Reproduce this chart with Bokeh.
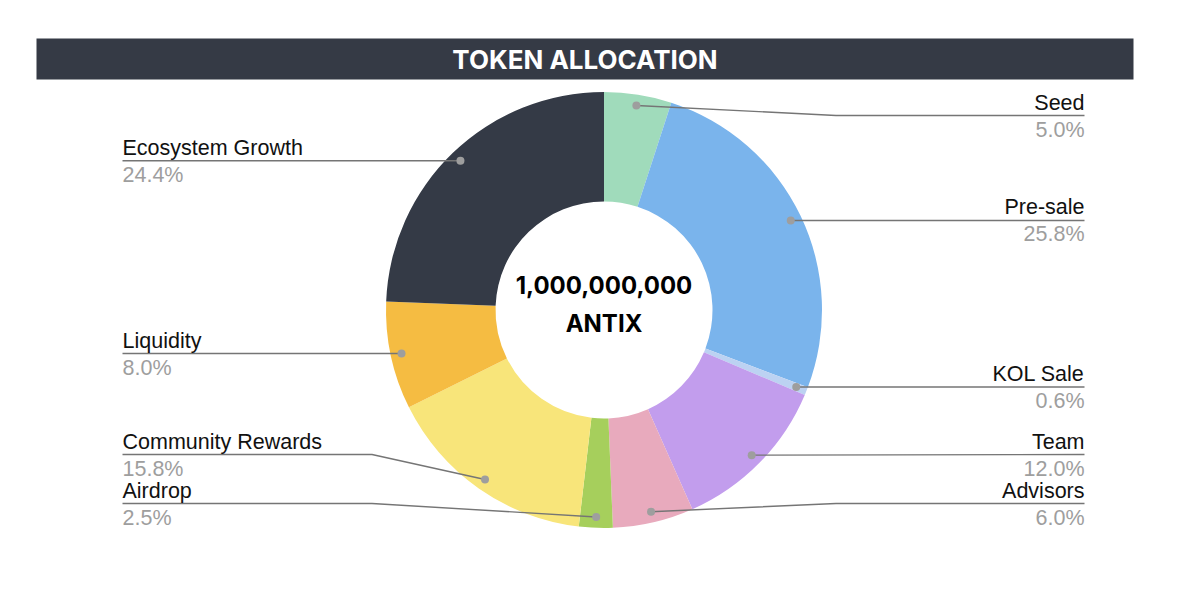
import math
from bokeh.plotting import figure
from bokeh.models import Range1d, ColumnDataSource
from bokeh.core.properties import value
from bokeh.embed import file_html
from bokeh.resources import INLINE

# ---- data ----
labels = ["Seed", "Pre-sale", "KOL Sale", "Team", "Advisors", "Airdrop",
          "Community Rewards", "Liquidity", "Ecosystem Growth"]
values = [5.0, 25.8, 0.6, 12.0, 6.0, 2.5, 15.8, 8.0, 24.4]
colors = ["#a0dbbb", "#7ab4ec", "#bcd2f2", "#c29ded", "#e8aabd", "#a6cf5c",
          "#f8e57a", "#f5bc42", "#343a46"]
title = "TOKEN ALLOCATION"
center_lines = ["1,000,000,000", "ANTIX"]

# ---- layout (screen-like units, y negative downward) ----
W, H = 1184, 577
CX, CY = 603.5, -309.5
R_OUT, R_IN = 218, 108.5
R_DOT = 0.95 * R_OUT
LEFT_X, RIGHT_X = 122, 1084
ELBOW = 232
TOP_LIM, BOT_LIM, GAP = 115, 503, 49

p = figure(width=W, height=H, x_range=Range1d(0, W), y_range=Range1d(-H, 0),
           x_axis_type=None, y_axis_type=None, min_border=0,
           toolbar_location=None, output_backend="svg")
p.grid.visible = False
p.outline_line_color = None
p.background_fill_color = "white"
p.border_fill_color = "white"

# header bar
p.quad(left=36, right=1133, top=-38, bottom=-79, fill_color="#353a45", line_color=None)
p.text(x=[584.5], y=[-58.5], text=[title], text_color="white", text_align="center",
       text_baseline="middle", text_font=value("Inter"), text_font_style="bold",
       text_font_size="26px")

# wedges
total = sum(values)
starts, ends, mids = [], [], []
cum = 0.0
for v in values:
    a0 = math.pi / 2 - 2 * math.pi * cum / total
    cum += v
    a1 = math.pi / 2 - 2 * math.pi * cum / total
    starts.append(a0)
    ends.append(a1)
    mids.append((a0 + a1) / 2)

src = ColumnDataSource(dict(start=starts, end=ends, color=colors, label=labels))
p.annular_wedge(x=CX, y=CY, inner_radius=R_IN, outer_radius=R_OUT,
                start_angle="start", end_angle="end", direction="clock",
                fill_color="color", line_color=None, source=src)

# center text
p.text(x=[CX, CX], y=[CY + 25, CY - 13], text=center_lines, text_color="black",
       text_align="center", text_baseline="middle", text_font=value("Inter"),
       text_font_style="bold", text_font_size="24px")

# label placement
dots = []
for i, m in enumerate(mids):
    dx = CX + R_DOT * math.cos(m)
    dy = CY + R_DOT * math.sin(m)
    frac_mid = (sum(values[:i]) + values[i] / 2) / total
    side = "right" if frac_mid < 0.5 else "left"
    dots.append((dx, dy, side))

line_y = {}
for side in ("right", "left"):
    idx = [i for i in range(len(values)) if dots[i][2] == side]
    idx.sort(key=lambda i: -dots[i][1])  # top to bottom (screen)
    ys = [min(max(-dots[i][1], TOP_LIM), BOT_LIM) for i in idx]
    for k in range(1, len(ys)):
        ys[k] = max(ys[k], ys[k - 1] + GAP)
    ys[-1] = min(ys[-1], BOT_LIM)
    for k in range(len(ys) - 2, -1, -1):
        ys[k] = min(ys[k], ys[k + 1] - GAP)
    for i, y in zip(idx, ys):
        line_y[i] = y

xs_l, ys_l = [], []
name_x, name_y, name_t, name_align = [], [], [], []
pct_t, pct_y = [], []
for i in range(len(values)):
    dx, dy, side = dots[i]
    ly = -line_y[i]
    endx = RIGHT_X if side == "right" else LEFT_X
    if abs(ly - dy) < 1:
        xs_l.append([dx, endx])
        ys_l.append([dy, ly])
    else:
        ex = CX + ELBOW if side == "right" else CX - ELBOW
        xs_l.append([dx, ex, endx])
        ys_l.append([dy, ly, ly])
    name_x.append(endx)
    name_y.append(ly + 13)
    pct_y.append(ly - 14)
    name_t.append(labels[i])
    pct_t.append(f"{values[i]:.1f}%")
    name_align.append(side)

p.multi_line(xs=xs_l, ys=ys_l, line_color="#757575", line_width=1.4)
p.scatter(x=[d[0] for d in dots], y=[d[1] for d in dots], size=8,
          fill_color="#9e9e9e", line_color=None)

for side, align in (("right", "right"), ("left", "left")):
    ii = [i for i in range(len(values)) if name_align[i] == side]
    p.text(x=[name_x[i] for i in ii], y=[name_y[i] for i in ii],
           text=[name_t[i] for i in ii], text_color="#111111", text_align=align,
           text_baseline="middle", text_font=value("Liberation Sans"),
           text_font_size="21.5px")
    p.text(x=[name_x[i] for i in ii], y=[pct_y[i] for i in ii],
           text=[pct_t[i] for i in ii], text_color="#9e9e9e", text_align=align,
           text_baseline="middle", text_font=value("Liberation Sans"),
           text_font_size="21.5px")

open("out.html", "w").write(file_html(p, INLINE))
